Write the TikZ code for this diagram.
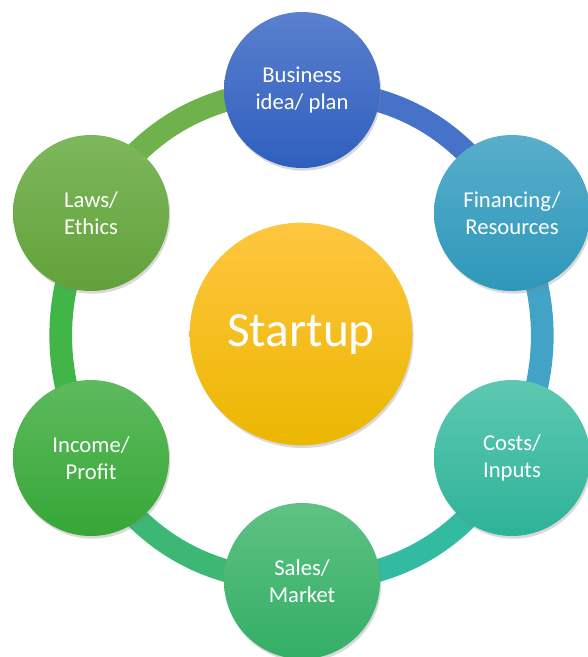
\documentclass[tikz,border=0pt]{standalone}
\usepackage{fontspec}
\setmainfont{Carlito}
\usetikzlibrary{shadows}
\usetikzlibrary{backgrounds}

\definecolor{bizTop}{HTML}{5A80CE}
\definecolor{bizBot}{HTML}{2F5FBE}
\definecolor{finTop}{HTML}{58AECB}
\definecolor{finBot}{HTML}{2E97BA}
\definecolor{costTop}{HTML}{5EC8B2}
\definecolor{costBot}{HTML}{2DB398}
\definecolor{saleTop}{HTML}{5EC283}
\definecolor{saleBot}{HTML}{33AE66}
\definecolor{incTop}{HTML}{5DBA5D}
\definecolor{incBot}{HTML}{36A737}
\definecolor{lawTop}{HTML}{7DB85C}
\definecolor{lawBot}{HTML}{62A13A}
\definecolor{startTop}{HTML}{FFC640}
\definecolor{startMid}{HTML}{FFC30E}
\definecolor{startBot}{HTML}{EBB700}
\definecolor{ringBiz}{HTML}{4673C9}
\definecolor{ringFin}{HTML}{43A3C6}
\definecolor{ringCost}{HTML}{33BBA2}
\definecolor{ringSale}{HTML}{3CB874}
\definecolor{ringInc}{HTML}{42B549}
\definecolor{ringLaw}{HTML}{6FB24C}

\begin{document}
\begin{tikzpicture}[x=0.75pt,y=-0.75pt]
	\tikzstyle{every node}+=[inner sep=0pt]
	\tikzstyle{bubble}=[circle, minimum size=117pt, text=white, align=center,
		font=\fontsize{17}{20.5}\selectfont,
		drop shadow={opacity=0.3, shadow xshift=1pt, shadow yshift=-2pt}]
	\tikzstyle{ring}=[line width=17pt]
	\useasboundingbox (0,0) rectangle (587,657);
	\node [bubble, top color=bizTop, bottom color=bizBot] (biz) at (302,90) {Business\\idea/ plan};
	\node [bubble, top color=finTop, bottom color=finBot] (fin) at (512,213) {Financing/\\Resources};
	\node [bubble, top color=costTop, bottom color=costBot] (cost) at (512,458) {Costs/\\Inputs};
	\node [bubble, top color=saleTop, bottom color=saleBot] (sale) at (302,581) {Sales/\\Market};
	\node [bubble, top color=incTop, bottom color=incBot] (inc) at (91,458) {Income/\\Profit};
	\node [bubble, top color=lawTop, bottom color=lawBot] (law) at (91,213) {Laws/\\Ethics};
	\node [circle, minimum size=167pt, text=white, font=\fontsize{37}{40}\selectfont,
		top color=startTop, middle color=startMid, bottom color=startBot,
		drop shadow={opacity=0.3, shadow xshift=1pt, shadow yshift=-2pt}] (start) at (301,334) {Startup};
	\begin{scope}[on background layer]
	\draw [ring, ringBiz] (biz.center) to [bend left=30] (fin.center);
	\draw [ring, ringFin] (fin.center) to [bend left=25] (cost.center);
	\draw [ring, ringCost] (cost.center) to [bend left=30] (sale.center);
	\draw [ring, ringSale] (sale.center) to [bend left=30] (inc.center);
	\draw [ring, ringInc] (inc.center) to [bend left=25] (law.center);
	\draw [ring, ringLaw] (law.center) to [bend left=30] (biz.center);
	\end{scope}
\end{tikzpicture}
\end{document}
